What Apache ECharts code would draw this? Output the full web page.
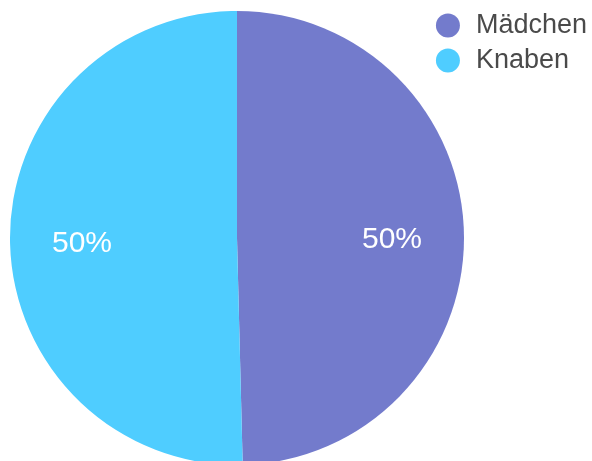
<!DOCTYPE html>
<html><head><meta charset="utf-8">
<script src="https://cdn.jsdelivr.net/npm/echarts@6/dist/echarts.min.js"></script>
<style>html,body{margin:0;padding:0;background:#fff}#c{width:592px;height:461px}</style>
</head><body><div id="c"></div>
<script>
const categories = ['Mädchen', 'Knaben'];
const values = [124, 126];
const colors = ['#737bcc', '#4fcdff'];

const data = categories.map((n, i) => ({ name: n, value: values[i], itemStyle: { color: colors[i] } }));
const chart = echarts.init(document.getElementById('c'), null, { renderer: 'canvas' });
chart.setOption({
  animation: false,
  legend: {
    orient: 'vertical', right: 0, top: 7, icon: 'circle',
    itemWidth: 24, itemHeight: 24, itemGap: 8,
    textStyle: { fontFamily: 'Liberation Sans', fontSize: 27, color: '#4a4a4a', padding: [0, 0, 0, 11] },
    data: categories
  },
  series: [{
    type: 'pie', center: [237, 238], radius: 227, startAngle: 90, clockwise: true,
    label: { show: false }, labelLine: { show: false }, emphasis: { disabled: true },
    data: data
  }, {
    type: 'pie', center: [237, 238], radius: [77, 227], startAngle: 90, clockwise: true,
    silent: true, legendHoverLink: false,
    itemStyle: { color: 'rgba(0,0,0,0)' },
    label: { show: true, position: 'inside', color: '#fff', fontFamily: 'Liberation Sans', fontSize: 30,
      offset: [0, 4], formatter: p => Math.round(p.percent) + '%' },
    labelLine: { show: false }, emphasis: { disabled: true },
    data: categories.map((n, i) => ({ name: n + ' ', value: values[i] }))
  }]
});
</script></body></html>
